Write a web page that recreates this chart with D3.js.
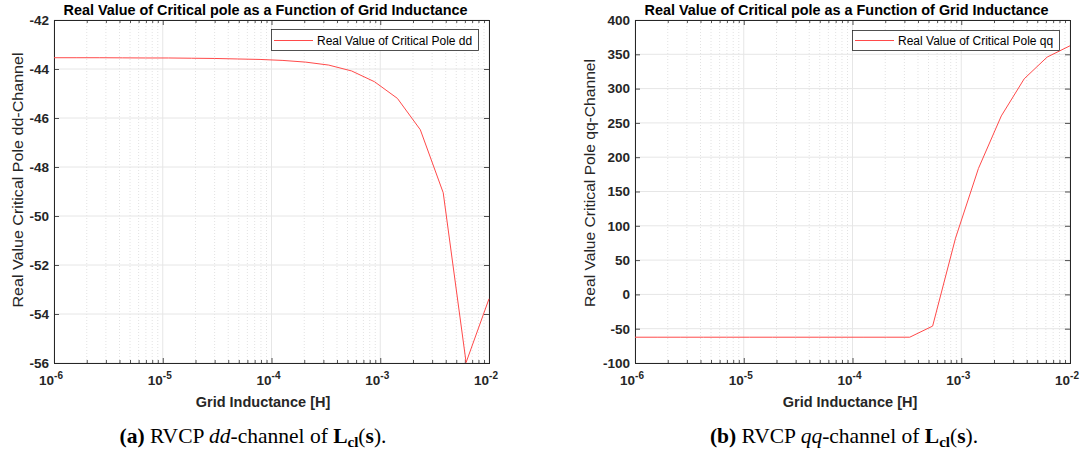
<!DOCTYPE html>
<html><head><meta charset="utf-8">
<script src="https://cdn.jsdelivr.net/npm/d3@7"></script>
<style>html,body{margin:0;padding:0;background:#fff;}svg{display:block;}</style>
</head><body>
<svg id="c" width="1092" height="454"></svg>
<script>
// ---- data ----
const inductance = [1.0e-6, 1.6238e-6, 2.6367e-6, 4.2813e-6, 6.9519e-6, 1.1288e-5, 1.8330e-5, 2.9764e-5,
  4.8329e-5, 7.8476e-5, 1.2743e-4, 2.0691e-4, 3.3598e-4, 5.4556e-4, 8.8587e-4, 1.4384e-3,
  2.3357e-3, 3.7927e-3, 6.1585e-3, 1.0e-2];
const poleDD = [-43.54, -43.54, -43.54, -43.545, -43.55, -43.55, -43.56, -43.57, -43.59, -43.61,
  -43.65, -43.72, -43.84, -44.08, -44.52, -45.2, -46.48, -49.05, -55.98, -53.38];
const poleQQ = [-62.4, -62.4, -62.4, -62.4, -62.4, -62.4, -62.4, -62.4, -62.4, -62.4,
  -62.4, -62.4, -62.4, -46.2, 82, 183.5, 260.2, 314.3, 345.9, 362.4];
const xTicks = [1e-6, 1e-5, 1e-4, 1e-3, 1e-2];
const xTickExp = ["-6", "-5", "-4", "-3", "-2"];
const yTicksDD = [-56, -54, -52, -50, -48, -46, -44, -42];
const yTicksQQ = [-100, -50, 0, 50, 100, 150, 200, 250, 300, 350, 400];
const titleText = "Real Value of Critical pole as a Function of Grid Inductance";
const xLabelText = "Grid Inductance [H]";

const svg = d3.select("#c");
const axisCol = "#262626";
const lineCol = "#ff4a4a";

function panel(opt) {
  const {left, right, top, bottom, values, yDomain, yTicks, yLabel, yLabelLen, legendText, legendBox, caption, yLabelCenter, xLabelX} = opt;
  const g = svg.append("g");
  const x = d3.scaleLog().domain([1e-6, 1e-2]).range([left, right]);
  const y = d3.scaleLinear().domain(yDomain).range([bottom, top]);

  // minor grid
  const minors = [];
  for (let e = -6; e < -2; e++) for (let m = 2; m <= 9; m++) minors.push(m * Math.pow(10, e));
  g.append("g").selectAll("line").data(minors).join("line")
    .attr("x1", d => x(d)).attr("x2", d => x(d)).attr("y1", top).attr("y2", bottom)
    .attr("stroke", "#e2e2e2").attr("stroke-width", 1).attr("stroke-dasharray", "1,2");
  // major grid
  g.append("g").selectAll("line").data(xTicks).join("line")
    .attr("x1", d => x(d)).attr("x2", d => x(d)).attr("y1", top).attr("y2", bottom)
    .attr("stroke", "#e6e6e6").attr("stroke-width", 1);
  g.append("g").selectAll("line").data(yTicks).join("line")
    .attr("x1", left).attr("x2", right).attr("y1", d => y(d)).attr("y2", d => y(d))
    .attr("stroke", "#e6e6e6").attr("stroke-width", 1);

  // axes with inside ticks
  const fmtNone = () => "";
  g.append("g").attr("transform", `translate(0,${bottom})`)
    .call(d3.axisTop(x).tickValues(minors).tickSize(3).tickFormat(fmtNone));
  g.append("g").attr("transform", `translate(0,${bottom})`)
    .call(d3.axisTop(x).tickValues(xTicks).tickSize(5).tickFormat(fmtNone));
  g.append("g").attr("transform", `translate(0,${top})`)
    .call(d3.axisBottom(x).tickValues(minors).tickSize(3).tickFormat(fmtNone));
  g.append("g").attr("transform", `translate(0,${top})`)
    .call(d3.axisBottom(x).tickValues(xTicks).tickSize(5).tickFormat(fmtNone));
  g.append("g").attr("transform", `translate(${left},0)`)
    .call(d3.axisRight(y).tickValues(yTicks).tickSize(5).tickFormat(fmtNone));
  g.append("g").attr("transform", `translate(${right},0)`)
    .call(d3.axisLeft(y).tickValues(yTicks).tickSize(5).tickFormat(fmtNone));
  g.selectAll(".domain").attr("stroke", axisCol).attr("stroke-width", 1);
  g.selectAll(".tick line").attr("stroke", axisCol).attr("stroke-width", 0.8);

  // y tick labels
  g.append("g").selectAll("text").data(yTicks).join("text")
    .attr("x", left - 5).attr("y", d => y(d)).attr("dy", "0.36em")
    .attr("text-anchor", "end").attr("font-family", "Liberation Sans, Arial, sans-serif")
    .attr("font-size", 13.5).attr("font-weight", "bold").attr("fill", axisCol)
    .text(d => d);

  // x tick labels 10^n
  const xl = g.append("g").selectAll("text").data(xTicks).join("text")
    .attr("x", d => x(d) - 3).attr("y", bottom + 22)
    .attr("text-anchor", "middle").attr("font-family", "Liberation Sans, Arial, sans-serif")
    .attr("font-size", 13.5).attr("font-weight", "bold").attr("fill", axisCol);
  xl.append("tspan").text("10");
  xl.append("tspan").attr("dy", -6).attr("font-size", 10).text((d, i) => xTickExp[i]);

  // x label
  g.append("text").attr("x", xLabelX).attr("y", bottom + 44)
    .attr("text-anchor", "middle").attr("font-family", "Liberation Sans, Arial, sans-serif")
    .attr("font-size", 14.5).attr("font-weight", "bold").attr("fill", axisCol).text(xLabelText);

  // y label
  g.append("text").attr("transform", `translate(${yLabelCenter[0]},${yLabelCenter[1]}) rotate(-90)`)
    .attr("text-anchor", "middle").attr("dy", "0.35em").attr("font-family", "Liberation Sans, Arial, sans-serif")
    .attr("font-size", 14.5).attr("fill", axisCol)
    .attr("textLength", yLabelLen).attr("lengthAdjust", "spacingAndGlyphs").text(yLabel);

  // title
  g.append("text").attr("x", (left + right) / 2 - 6).attr("y", 15)
    .attr("text-anchor", "middle").attr("font-family", "Liberation Sans, Arial, sans-serif")
    .attr("font-size", 14).attr("font-weight", "bold").attr("fill", "#000")
    .attr("textLength", 404).attr("lengthAdjust", "spacingAndGlyphs").text(titleText);

  // data line
  const line = d3.line().x((d, i) => x(inductance[i])).y(d => y(d));
  g.append("path").datum(values).attr("d", line)
    .attr("fill", "none").attr("stroke", lineCol).attr("stroke-width", 1);

  // legend
  const [lx, ly, lw, lh] = legendBox;
  const my = Math.round(ly + lh / 2) + 0.5;
  g.append("rect").attr("x", lx + 0.5).attr("y", ly + 0.5).attr("width", lw).attr("height", lh)
    .attr("fill", "#fff").attr("stroke", axisCol).attr("stroke-width", 0.8);
  g.append("line").attr("x1", lx + 3).attr("x2", lx + 42).attr("y1", my).attr("y2", my)
    .attr("stroke", lineCol).attr("stroke-width", 1);
  g.append("text").attr("x", lx + 46).attr("y", my).attr("dy", "0.36em")
    .attr("font-family", "Liberation Sans, Arial, sans-serif").attr("font-size", 12)
    .attr("fill", "#000").text(legendText);

  // caption
  const c = g.append("text").attr("x", caption[0]).attr("y", caption[1]).attr("text-anchor", "middle")
    .attr("font-family", "Liberation Serif, Times New Roman, serif").attr("font-size", 21.5).attr("fill", "#000");
  c.append("tspan").attr("font-weight", "bold").text(caption[2]);
  c.append("tspan").text(" RVCP ");
  c.append("tspan").attr("font-style", "italic").text(caption[3]);
  c.append("tspan").text("-channel of ");
  c.append("tspan").attr("font-weight", "bold").text("L");
  c.append("tspan").attr("font-weight", "bold").attr("font-size", 15).attr("dy", 4).text("cl");
  c.append("tspan").attr("dy", -4).text("(");
  c.append("tspan").attr("font-weight", "bold").text("s");
  c.append("tspan").text(").");
}

panel({left: 54, right: 489, top: 20, bottom: 363, values: poleDD, yDomain: [-56, -42], yTicks: yTicksDD,
  yLabel: "Real Value Critical Pole dd-Channel", yLabelLen: 255, yLabelCenter: [18, 180], xLabelX: 263,
  legendText: "Real Value of Critical Pole dd", legendBox: [271, 29, 207, 21],
  caption: [253, 443, "(a)", "dd"]});
panel({left: 635, right: 1070, top: 20, bottom: 363, values: poleQQ, yDomain: [-100, 400], yTicks: yTicksQQ,
  yLabel: "Real Value Critical Pole qq-Channel", yLabelLen: 248, yLabelCenter: [590, 183], xLabelX: 850,
  legendText: "Real Value of Critical Pole qq", legendBox: [852, 30, 207, 20],
  caption: [844, 443, "(b)", "qq"]});
</script>
</body></html>
